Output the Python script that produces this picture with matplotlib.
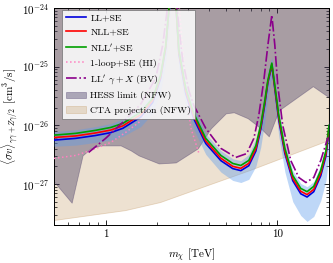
import matplotlib
matplotlib.use("Agg")
import matplotlib.pyplot as plt
from matplotlib.ticker import NullFormatter, LogLocator

plt.rcParams['font.family'] = 'serif'
plt.rcParams['font.serif'] = ['cmr10']
plt.rcParams['mathtext.fontset'] = 'cm'
plt.rcParams['axes.formatter.use_mathtext'] = True

# dark matter mass grid for the SE curves [TeV]
m_se = [0.5, 0.67, 0.87, 1.07, 1.26, 1.6, 1.88, 2.09, 2.24, 2.36, 2.45, 2.56, 2.67,
        2.93, 3.26, 3.83, 4.69, 5.5, 6.13, 6.82, 7.5, 8.0, 8.46, 8.81, 9.29, 9.67,
        10.2, 11.07, 12.3, 13.7, 14.9, 16.3, 17.9, 19.2, 20.0]

ll_se = [5.6e-27, 6.0e-27, 6.7e-27, 7.5e-27, 8.9e-27, 1.38e-26, 2.45e-26, 6.3e-26, 2.1e-25,
         1.3e-24, 4.6e-24, 1.3e-24, 1.65e-25, 3.5e-26, 1.3e-26, 4.9e-27, 2.5e-27, 1.83e-27,
         1.69e-27, 2.05e-27, 3.65e-27, 8.4e-27, 2.3e-26, 5.3e-26, 1.05e-25, 4.2e-26, 1.22e-26,
         3.3e-27, 1.14e-27, 6.8e-28, 6.0e-28, 7.4e-28, 1.38e-27, 3.0e-27, 8.2e-27]
nll_se = [6.2e-27, 6.6e-27, 7.4e-27, 8.3e-27, 9.8e-27, 1.52e-26, 2.7e-26, 6.8e-26, 2.2e-25,
          1.35e-24, 4.8e-24, 1.35e-24, 1.8e-25, 3.9e-26, 1.45e-26, 5.4e-27, 2.75e-27, 2.0e-27,
          1.85e-27, 2.25e-27, 4.0e-27, 9.2e-27, 2.5e-26, 5.6e-26, 1.1e-25, 4.5e-26, 1.35e-26,
          3.6e-27, 1.25e-27, 7.5e-28, 6.6e-28, 8.1e-28, 1.52e-27, 3.3e-27, 9.0e-27]
nllp_se = [6.8e-27, 7.3e-27, 8.2e-27, 9.2e-27, 1.08e-26, 1.67e-26, 2.9e-26, 7.2e-26, 2.3e-25,
           1.4e-24, 5e-24, 1.4e-24, 1.9e-25, 4.3e-26, 1.6e-26, 6.0e-27, 3.07e-27, 2.24e-27,
           2.07e-27, 2.52e-27, 4.5e-27, 1.0e-26, 2.67e-26, 5.9e-26, 1.15e-25, 4.8e-26, 1.48e-26,
           4.05e-27, 1.40e-27, 8.4e-28, 7.4e-28, 9.1e-28, 1.70e-27, 3.7e-27, 1.0e-26]

band_hi = [7.8e-27, 8.4e-27, 9.5e-27, 1.07e-26, 1.28e-26, 2.0e-26, 3.6e-26, 9.5e-26, 3.2e-25,
           2.0e-24, 6e-24, 2.0e-24, 2.8e-25, 5.6e-26, 2.0e-26, 7.2e-27, 3.7e-27, 2.7e-27,
           2.5e-27, 3.2e-27, 6.0e-27, 1.4e-26, 3.8e-26, 8.5e-26, 1.45e-25, 7.0e-26, 2.0e-26,
           5.0e-27, 1.7e-27, 1.02e-27, 9.0e-28, 1.1e-27, 2.1e-27, 4.6e-27, 1.25e-26]
band_lo = [4.4e-27, 4.6e-27, 5.1e-27, 5.6e-27, 6.5e-27, 9.5e-27, 1.6e-26, 3.8e-26, 1.2e-25,
           7e-25, 3e-24, 7e-25, 9e-26, 2.2e-26, 8.5e-27, 3.2e-27, 1.6e-27, 1.15e-27,
           1.06e-27, 1.2e-27, 2.0e-27, 4.2e-27, 1.2e-26, 3.0e-26, 7e-26, 2.5e-26, 6.5e-27,
           1.6e-27, 5.0e-28, 2.9e-28, 2.3e-28, 2.8e-28, 5.2e-28, 1.15e-27, 3.2e-27]

# 1-loop + SE (HI)
m_hi = [0.5, 0.67, 0.82, 1.07, 1.31, 1.56, 1.83, 2.09, 2.27, 2.39, 2.5, 2.66, 2.81, 2.97,
        3.13, 3.35, 3.48]
hi = [2.73e-27, 3.07e-27, 3.74e-27, 5.1e-27, 7.6e-27, 1.12e-26, 2.2e-26, 7.2e-26, 3.45e-25,
      1.5e-24, 5e-24, 1.5e-24, 1.9e-25, 3.26e-26, 9.2e-27, 4.9e-27, 3.45e-27]

# LL' gamma + X (BV)
m_bv = [0.796, 1.0, 1.256, 1.6, 1.96, 2.15, 2.3, 2.42, 2.59, 2.81, 3.05, 3.26, 3.83, 4.69,
        5.73, 6.63, 7.3, 7.8, 8.35, 8.81, 9.29, 9.67, 10.06, 10.75, 11.97, 13.34, 14.67,
        16.3, 17.9, 19.7]
bv = [3.45e-27, 6.0e-27, 1.12e-26, 2.29e-26, 6.4e-26, 2.33e-25, 1.1e-24, 5e-24, 1.1e-24,
      1.29e-25, 3.96e-26, 2.2e-26, 8.9e-27, 4.05e-27, 2.84e-27, 3.3e-27, 6.0e-27, 1.48e-26,
      5.9e-26, 2.33e-25, 7.6e-25, 2.33e-25, 4.8e-26, 1.0e-26, 2.52e-27, 1.29e-27, 1.06e-27,
      1.29e-27, 2.52e-27, 6.2e-27]

# HESS limit and CTA projection (NFW)
m_hess = [0.5, 0.634, 0.734, 0.818, 0.935, 1.223, 1.40, 1.557, 2.04, 2.56, 3.44, 4.10,
          5.01, 5.58, 6.73, 8.01, 8.92, 10.2, 16.1, 20.0]
hess = [1.10e-27, 4.8e-28, 3.07e-27, 4.05e-27, 4.55e-27, 4.55e-27, 3.74e-27, 3.07e-27,
        2.24e-27, 2.33e-27, 4.05e-27, 8.9e-27, 1.60e-26, 1.67e-26, 1.32e-26, 8.9e-27,
        6.5e-27, 1.80e-26, 4.65e-26, 3.0e-26]
m_cta = [0.5, 1.31, 2.09, 3.81, 6.97, 20.0]
cta = [2.38e-28, 3.52e-28, 4.83e-28, 9.06e-28, 1.70e-27, 5.5e-27]

fig = plt.figure(figsize=(3.33, 2.63), dpi=100)
ax = fig.add_axes([0.162, 0.1445, 0.826, 0.825])
ax.set_xscale('log')
ax.set_yscale('log')

ax.fill_between(m_cta, cta, 1e-23, color='tan', alpha=0.4, lw=0.6, edgecolor='#c8a070',
                label='CTA projection (NFW)', zorder=1)
ax.fill_between(m_hess, hess, 1e-23, color='#423860', alpha=0.4, lw=0.6, edgecolor='#4a3a6a',
                label='HESS limit (NFW)', zorder=2)

ax.fill_between(m_se, band_lo, band_hi, color='#5e9ceb', alpha=0.4, lw=0, zorder=3)
ax.plot(m_se, ll_se, color='#0000dd', lw=1.2, label='LL+SE', zorder=5)
ax.plot(m_se, nll_se, color='red', lw=1.2, label='NLL+SE', zorder=6)
ax.plot(m_se, nllp_se, color='#00a000', lw=1.2, label=r"NLL$'$+SE", zorder=7)
ax.plot(m_hi, hi, color='#ff80c0', lw=1.1, ls=':', label='1-loop+SE (HI)', zorder=4)
ax.plot(m_bv, bv, color='#8b008b', lw=1.2, ls='-.', label=r"LL$'$ $\gamma+X$ (BV)", zorder=8)

ax.set_xlim(0.5, 20)
ax.set_ylim(2e-28, 1e-24)
ax.set_xticks([1, 10])
ax.set_xticklabels(['1', '10'])
ax.xaxis.set_minor_formatter(NullFormatter())
ax.yaxis.set_major_locator(LogLocator(base=10, numticks=10))
ax.yaxis.set_minor_locator(LogLocator(base=10, subs=range(2, 10), numticks=10))
ax.yaxis.set_minor_formatter(NullFormatter())
ax.tick_params(which='both', direction='in', top=True, right=True, labelsize=8)
ax.tick_params(which='major', length=3.5, width=0.6)
ax.tick_params(which='minor', length=2, width=0.5)
for s in ax.spines.values():
    s.set_linewidth(0.7)

ax.set_xlabel(r'$m_\chi$ [TeV]', fontsize=8, labelpad=5)
ax.set_ylabel(r'$\langle\sigma v\rangle_{\gamma\gamma+Z\gamma/2}$ [cm$^3$/s]', fontsize=8, labelpad=1)

h, l = ax.get_legend_handles_labels()
order = ['LL+SE', 'NLL+SE', r"NLL$'$+SE", '1-loop+SE (HI)', r"LL$'$ $\gamma+X$ (BV)",
         'HESS limit (NFW)', 'CTA projection (NFW)']
hd = dict(zip(l, h))
leg = ax.legend([hd[k] for k in order], order, loc='upper left', bbox_to_anchor=(0.03, 0.992),
                borderaxespad=0, fontsize=7, fancybox=False, framealpha=0.85, edgecolor='0.45',
                handlelength=2.0, handletextpad=0.5, labelspacing=0.55)
leg.get_frame().set_linewidth(0.6)
leg.set_zorder(20)

fig.savefig('out.png', dpi=100)
